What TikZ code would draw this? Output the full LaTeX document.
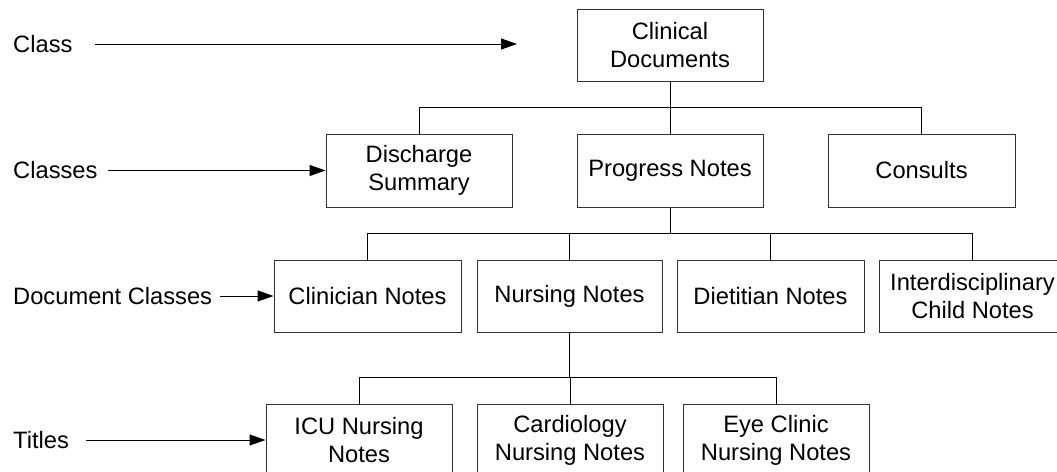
\documentclass[tikz,border=0pt]{standalone}
\usepackage{fontspec}
\setmainfont{Liberation Sans}
\usetikzlibrary{arrows.meta}
\begin{document}
\begin{tikzpicture}[x=1pt,y=-1pt,
  box/.style={draw=black!80, line width=1pt, minimum width=186pt, minimum height=72pt,
    inner sep=2pt, align=center, font=\fontsize{23.7}{28}\selectfont},
  lbl/.style={anchor=west, inner sep=0pt, font=\fontsize{23.7}{28}\selectfont},
  conn/.style={draw=black, line width=1pt},
  arr/.style={draw=black, line width=1pt, -{Triangle[length=16pt,width=11pt]}}]
\useasboundingbox (0,0) rectangle (1057,471);
% level 0
\node[box] (cd) at (670,45) {Clinical\\Documents};
% level 1
\node[box, minimum height=73pt] (ds) at (419,170.5) {Discharge\\Summary};
\node[box, minimum height=73pt] (pn) at (670,170.5) {Progress Notes};
\node[box, minimum height=73pt, minimum width=187pt] (co) at (921.5,170.5) {Consults};
% level 2
\node[box, minimum width=187pt] (cn) at (367.5,296) {Clinician Notes};
\node[box, minimum width=185pt] (nn) at (569.5,296) {Nursing Notes};
\node[box, minimum width=187pt] (dn) at (770.5,296) {Dietitian Notes};
\node[box, minimum width=187pt] (ic) at (972.5,296) {Interdisciplinary\\Child Notes};
% level 3
\node[box] (icu) at (359,440) {ICU Nursing\\Notes};
\node[box] (ca) at (570,440) {Cardiology\\Nursing Notes};
\node[box] (ey) at (776,440) {Eye Clinic\\Nursing Notes};
% bus levels
\coordinate (b1) at (0,107);
\coordinate (b2) at (0,233);
\coordinate (b3) at (0,377);
% tree connectors
\draw[conn] (cd.south) -- (cd.south |- b1) -| (ds.north);
\draw[conn] (cd.south) -- (pn.north);
\draw[conn] (cd.south |- b1) -| (co.north);
\draw[conn] (pn.south) -- (pn.south |- b2) -| (cn.north);
\draw[conn] (pn.south |- b2) -| (nn.north);
\draw[conn] (pn.south |- b2) -| (dn.north);
\draw[conn] (pn.south |- b2) -| (ic.north);
\draw[conn] (nn.south) -- (nn.south |- b3) -| (icu.north);
\draw[conn] (nn.south |- b3) -| (ca.north);
\draw[conn] (nn.south |- b3) -| (ey.north);
% level labels
\node[lbl] (l0) at (13,44) {Class};
\node[lbl] (l1) at (13,170.5) {Classes};
\node[lbl] (l2) at (13,296) {Document Classes};
\node[lbl] (l3) at (13,440) {Titles};
\coordinate (a0s) at (95,44);
\coordinate (a0e) at (517,44);
\coordinate (a1s) at (108,170.5);
\coordinate (a2s) at (220,296);
\coordinate (a3s) at (86,440);
\draw[arr] (a0s) -- (a0e);
\draw[arr] (a1s) -- (ds.west);
\draw[arr] (a2s) -- (cn.west);
\draw[arr] (a3s) -- (icu.west);
\end{tikzpicture}
\end{document}
